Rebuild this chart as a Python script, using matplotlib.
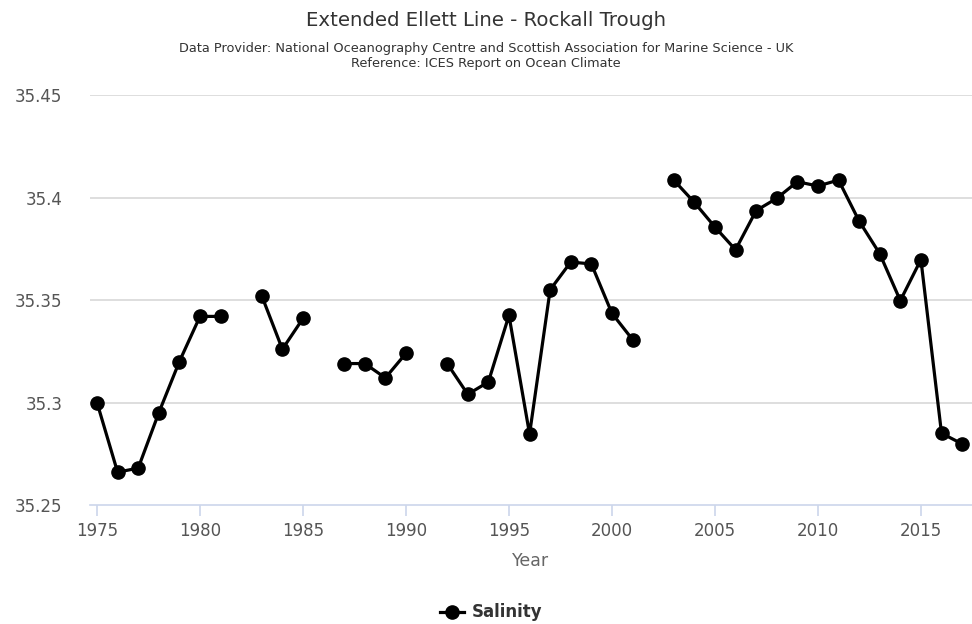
import numpy as np
import matplotlib
matplotlib.use("Agg")
import matplotlib.pyplot as plt

# Annual mean salinity, Rockall Trough (NaN = no survey that year)
years = list(range(1975, 2018))
salinity = [
    35.300, 35.266, 35.268, 35.295, 35.320, 35.342, 35.342, np.nan,
    35.352, 35.326, 35.341, np.nan,
    35.319, 35.319, 35.312, 35.324, np.nan,
    35.319, 35.304, 35.310, 35.3425, 35.2846, 35.355, 35.3685, 35.3676,
    35.3435, 35.3307, np.nan,
    35.4085, 35.3976, 35.3856, 35.3745, 35.3936, 35.3996, 35.4077, 35.4056,
    35.4085, 35.3885, 35.3726, 35.3497, 35.3697, 35.285, 35.2798,
]
y_ticks = [35.25, 35.30, 35.35, 35.40, 35.45]
y_tick_labels = ["35.25", "35.3", "35.35", "35.4", "35.45"]
x_ticks = [1975, 1980, 1985, 1990, 1995, 2000, 2005, 2010, 2015]

title = "Extended Ellett Line - Rockall Trough"
subtitle = ("Data Provider: National Oceanography Centre and Scottish Association for Marine Science - UK\n"
            "Reference: ICES Report on Ocean Climate")

plt.rcParams["font.family"] = ["DejaVu Sans"]

W, H = 972, 624
fig = plt.figure(figsize=(W / 100, H / 100), dpi=100)
left, right, top, bottom = 90, 972, 95, 505
ax = fig.add_axes([left / W, 1 - bottom / H, (right - left) / W, (bottom - top) / H])

ax.plot(years, salinity, color="black", lw=2.3, marker="o", markersize=9.5,
        markeredgecolor="black", markerfacecolor="black", zorder=3, clip_on=False)

ax.set_ylim(35.25, 35.45)
ax.set_xlim(1974.66, 2017.48)
ax.set_yticks(y_ticks)
ax.set_yticklabels(y_tick_labels)
ax.set_xticks(x_ticks)

for y in y_ticks[1:]:
    ax.axhline(y, color="#d8d8d8", lw=1.2, zorder=1)

for s in ["top", "right", "left"]:
    ax.spines[s].set_visible(False)
ax.spines["bottom"].set_color("#ccd6eb")
ax.spines["bottom"].set_linewidth(1.2)

ax.tick_params(axis="y", length=0, pad=20, labelsize=12, labelcolor="#555555")
ax.tick_params(axis="x", length=8, width=1.2, color="#ccd6eb", pad=4,
               labelsize=12, labelcolor="#555555")

ax.set_xlabel("Year", fontsize=12.5, color="#666666", labelpad=9)

fig.text(0.5, 1 - 20 / H, title, ha="center", va="center", fontsize=14.2, color="#333333")
fig.text(0.5, 1 - 56 / H, subtitle, ha="center", va="center", fontsize=9.3,
         color="#333333", linespacing=1.2)

# legend entry
lx, ly = 440 / W, 1 - 612 / H
fig.add_artist(plt.Line2D([lx, lx + 24 / W], [ly, ly], color="black", lw=2.3,
                          transform=fig.transFigure))
fig.add_artist(plt.Line2D([lx + 12 / W], [ly], color="black", marker="o",
                          markersize=9.5, transform=fig.transFigure))
fig.text(lx + 32 / W, ly, "Salinity", ha="left", va="center", fontsize=12,
         fontweight="bold", color="#333333")

fig.savefig("out.png", dpi=100)
